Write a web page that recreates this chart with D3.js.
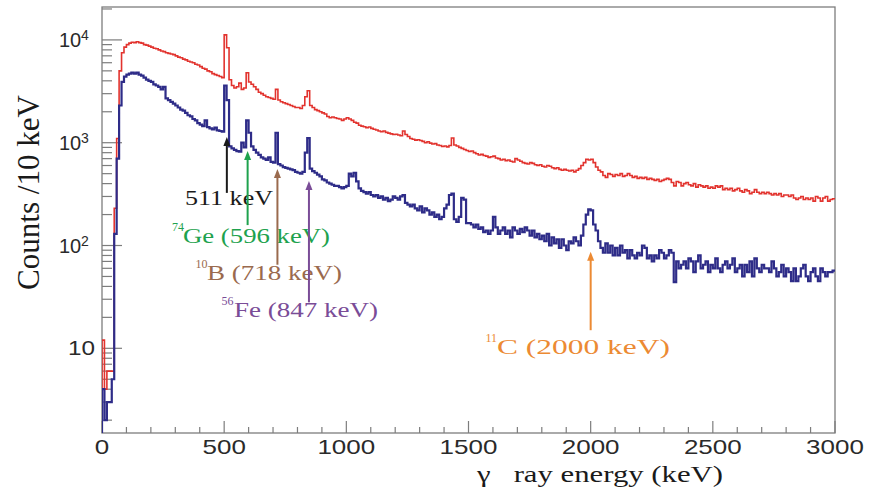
<!DOCTYPE html>
<html>
<head>
<meta charset="utf-8">
<script src="https://cdn.jsdelivr.net/npm/d3@7"></script>
<style>
  html, body { margin: 0; padding: 0; background: #fff; }
  svg { display: block; }
  .serif { font-family: "Liberation Serif", "Times New Roman", Times, serif; }
  .sans { font-family: "Liberation Sans", Arial, Helvetica, sans-serif; }
</style>
</head>
<body>
<svg id="chart" width="879" height="494"></svg>
<script>
// Gamma-ray spectra, 10 keV bins from 0 to 3000 keV
const binWidth = 10;

// upper spectrum (red)
const redCounts = [
  12, 4, 6, 6, 6, 230, 1100, 5000, 7500, 8500,
  9000, 9300, 9500, 9400, 9600, 9400, 9300, 9000, 8900, 8700,
  8500, 8300, 8200, 8000, 7800, 7700, 7500, 7400, 7300, 7200,
  7000, 6800, 6700, 6500, 6400, 6200, 6100, 6000, 5800, 5700,
  5500, 5300, 5200, 5000, 4900, 4700, 4600, 4500, 4400, 4300,
  11200, 8400, 4100, 3600, 3400, 3500, 3800, 3300, 3400, 4800,
  3900, 3700, 3500, 3300, 3100, 3000, 2900, 2800, 2750, 2700,
  2650, 3300, 2600, 2500, 2450, 2400, 2350, 2300, 2250, 2200,
  2200, 2150, 2300, 2800, 3200, 2300, 2200, 2100, 2050, 2000,
  1950, 1900, 1800, 1750, 1780, 1750, 1720, 1700, 1650, 1700,
  1750, 1700, 1650, 1580, 1550, 1480, 1450, 1430, 1400, 1420,
  1380, 1350, 1330, 1300, 1280, 1300, 1260, 1240, 1220, 1200,
  1210, 1190, 1170, 1300, 1200, 1150, 1100, 1080, 1060, 1070,
  1050, 1030, 1000, 1020, 990, 970, 980, 950, 940, 920,
  930, 910, 940, 1110, 950, 930, 900, 880, 860, 840,
  820, 830, 800, 780, 760, 770, 750, 740, 720, 730,
  740, 710, 700, 680, 690, 670, 680, 660, 650, 700,
  680, 660, 640, 630, 620, 640, 630, 610, 600, 610,
  590, 580, 600, 590, 570, 560, 570, 550, 540, 550,
  540, 530, 540, 520, 540, 560, 600, 640, 690, 680,
  690, 640, 580, 540, 520, 480, 460, 500, 490, 470,
  490, 480, 500, 470, 480, 500, 480, 460, 470, 450,
  460, 450, 460, 440, 450, 440, 430, 440, 420, 430,
  440, 450, 440, 410, 380, 420, 410, 380, 400, 410,
  390, 380, 400, 370, 390, 380, 370, 380, 360, 370,
  360, 380, 370, 380, 350, 360, 350, 360, 340, 350,
  360, 340, 330, 350, 340, 320, 330, 350, 330, 320,
  330, 320, 330, 320, 310, 320, 310, 320, 300, 310,
  310, 300, 310, 290, 280, 290, 300, 280, 290, 280,
  290, 270, 300, 290, 270, 290, 300, 270, 280, 285
];

// lower spectrum (blue)
const blueCounts = [
  4, 2, 3, 3, 5, 130, 700, 2300, 3900, 4400,
  4600, 4700, 4800, 4700, 4800, 4600, 4500, 4300, 4100, 4000,
  3900, 3700, 3600, 3500, 3300, 3500, 2700, 2600, 2500, 2400,
  2300, 2200, 2100, 2050, 1950, 1850, 1800, 1700, 1650, 1550,
  1500, 1450, 1650, 1420, 1380, 1350, 1400, 1320, 1300, 1280,
  3600, 2600, 920, 880, 850, 830, 820, 1000, 900, 1650,
  1250, 920, 850, 800, 760, 720, 700, 680, 720, 650,
  640, 1250, 620, 600, 580, 570, 560, 550, 540, 520,
  510, 500, 520, 800, 1110, 560, 530, 510, 490, 470,
  440, 430, 410, 400, 390, 380, 380, 370, 360, 370,
  380, 500, 470, 510, 420, 360, 340, 330, 320, 330,
  310, 300, 310, 290, 300, 280, 290, 270, 280, 300,
  290, 280, 300, 310, 260, 250, 240, 250, 230, 220,
  240, 210, 230, 220, 200, 210, 190, 200, 180, 190,
  230, 250, 310, 320, 180, 170, 190, 290, 280, 165,
  165, 160, 150, 160, 145, 150, 135, 140, 130, 140,
  190, 150, 130, 140, 150, 130, 140, 120, 150, 140,
  130, 145, 135, 150, 140, 125, 140, 120, 130, 115,
  125, 110, 130, 100, 120, 105, 115, 95, 115, 100,
  90, 110, 105, 120, 110, 100, 125, 160, 200, 225,
  220, 160, 140, 110, 95, 85, 105, 85, 100, 80,
  95, 80, 100, 85, 90, 75, 90, 80, 75, 85,
  80, 100, 95, 75, 80, 70, 80, 75, 90, 85,
  75, 80, 90, 85, 44, 70, 60, 65, 70, 60,
  75, 70, 55, 70, 80, 60, 65, 70, 55, 65,
  60, 75, 60, 55, 65, 70, 60, 65, 75, 55,
  60, 65, 50, 65, 55, 70, 50, 75, 60, 55,
  65, 60, 60, 55, 70, 60, 50, 55, 65, 50,
  60, 55, 45, 60, 45, 50, 60, 65, 50, 45,
  55, 60, 50, 45, 60, 55, 50, 55, 55, 57
];

// axis tick labels
const xTickValues = [0, 500, 1000, 1500, 2000, 2500, 3000];
const yDecadeExponents = [1, 2, 3, 4];

// annotated lines
const peakEnergies = [511, 596, 718, 847, 2000];
const peakIsotopeMass = ["", "74", "10", "56", "11"];
const peakElements = ["", "Ge", "B", "Fe", "C"];
const arrowTipCounts = [1138, 832, 556, 424, 87];
const arrowTailCounts = [325, 158, 65, 28, 15];

// styles
const peakColors = ["#1a1a1a", "#1ea24e", "#9a6a4e", "#7a4c97", "#ec8a33"];
const redColor = "#e2332e";
const blueColor = "#2e2c88";

// label placement (left x of superscript / main text, baseline, main text width)
const labelLayout = [
  { x: 185, y: 205, w: 88 },
  { sx: 172, x: 183, y: 243, w: 147 },
  { sx: 195.5, x: 207, y: 280, w: 135 },
  { sx: 221.5, x: 234, y: 317, w: 144 },
  { sx: 485.5, x: 497, y: 354, w: 173 }
];

const svg = d3.select("#chart");
const plot = { left: 102, right: 835, top: 7, bottom: 433 };

const x = d3.scaleLinear().domain([0, 3000]).range([plot.left, plot.right]);
const y = d3.scaleLog().domain([1.5, 20900]).range([plot.bottom, plot.top]);

svg.append("rect").attr("width", 879).attr("height", 494).attr("fill", "#fff");

// clip for the spectra
svg.append("clipPath").attr("id", "plotClip")
  .append("rect")
  .attr("x", plot.left).attr("y", plot.top)
  .attr("width", plot.right - plot.left).attr("height", plot.bottom - plot.top);

const axisColor = "#7d7d7d";
const labelColor = "#2a2a2a";

// x ticks: major every 500 keV, minor every 100 keV, pointing inward
const xMinor = d3.range(0, 3001, 100);
svg.append("g").selectAll("line").data(xMinor).join("line")
  .attr("x1", d => x(d)).attr("x2", d => x(d))
  .attr("y1", plot.bottom)
  .attr("y2", d => plot.bottom - (d % 500 === 0 ? 12 : 6))
  .attr("stroke", axisColor).attr("stroke-width", 1.2);

// y ticks: decades long, 2..9 short
const yMinor = [];
[1, 10, 100, 1000, 10000].forEach(dec => {
  for (let m = 1; m <= 9; m++) {
    const v = m * dec;
    if (v >= y.domain()[0] && v <= y.domain()[1]) yMinor.push({ v, major: m === 1 });
  }
});
svg.append("g").selectAll("line").data(yMinor).join("line")
  .attr("x1", plot.left)
  .attr("x2", d => plot.left + (d.major ? 20 : 10))
  .attr("y1", d => y(d.v)).attr("y2", d => y(d.v))
  .attr("stroke", axisColor).attr("stroke-width", 1.2);

// frame
svg.append("rect")
  .attr("x", plot.left).attr("y", plot.top)
  .attr("width", plot.right - plot.left).attr("height", plot.bottom - plot.top)
  .attr("fill", "none").attr("stroke", axisColor).attr("stroke-width", 1.3);

// x tick labels
svg.append("g").selectAll("text").data(xTickValues).join("text")
  .attr("class", "sans")
  .attr("transform", d => `translate(${x(d)},454) scale(1.3,1)`)
  .attr("text-anchor", "middle")
  .attr("font-size", 20)
  .attr("fill", labelColor)
  .text(d => d);

// y tick labels
yDecadeExponents.forEach(e => {
  const yy = y(Math.pow(10, e));
  if (e === 1) {
    svg.append("text").attr("class", "sans")
      .attr("x", 68).attr("y", yy + 7)
      .attr("font-size", 20).attr("fill", labelColor)
      .attr("textLength", 27).attr("lengthAdjust", "spacingAndGlyphs")
      .text("10");
  } else {
    svg.append("text").attr("class", "sans")
      .attr("x", 59).attr("y", yy + 7)
      .attr("font-size", 20).attr("fill", labelColor)
      .text("10");
    svg.append("text").attr("class", "sans")
      .attr("x", 81).attr("y", yy + 0.5)
      .attr("font-size", 14).attr("fill", labelColor)
      .text(e);
  }
});

// axis titles
svg.append("text").attr("class", "serif")
  .attr("x", 477).attr("y", 482)
  .attr("font-size", 24).attr("fill", "#1a1a1a")
  .attr("textLength", 246).attr("lengthAdjust", "spacingAndGlyphs")
  .style("white-space", "pre")
  .text("\u03b3   ray energy (keV)");

svg.append("text").attr("class", "serif")
  .attr("transform", "translate(39,290) rotate(-90)")
  .attr("font-size", 31).attr("fill", "#1a1a1a")
  .attr("textLength", 195).attr("lengthAdjust", "spacingAndGlyphs")
  .text("Counts /10 keV");

// spectra as step histograms
function histPoints(counts) {
  const pts = [[0, y.domain()[0]]];
  counts.forEach((c, i) => pts.push([i * binWidth, c]));
  pts.push([counts.length * binWidth, counts[counts.length - 1]]);
  return pts;
}
const histLine = d3.line()
  .x(d => x(d[0])).y(d => y(d[1]))
  .curve(d3.curveStepAfter);

const spectra = svg.append("g").attr("clip-path", "url(#plotClip)");
spectra.append("path")
  .attr("d", histLine(histPoints(redCounts)))
  .attr("fill", "none").attr("stroke", redColor).attr("stroke-width", 1.6)
  .attr("stroke-linejoin", "miter");
spectra.append("path")
  .attr("d", histLine(histPoints(blueCounts)))
  .attr("fill", "none").attr("stroke", blueColor).attr("stroke-width", 2.2)
  .attr("stroke-linejoin", "miter");

// peak arrows and labels
const headLen = 9, headHalf = 3.5;
peakEnergies.forEach((E, i) => {
  const col = peakColors[i];
  const ax = x(E);
  const tip = y(arrowTipCounts[i]);
  const tail = y(arrowTailCounts[i]);
  svg.append("line")
    .attr("x1", ax).attr("x2", ax)
    .attr("y1", tail).attr("y2", tip + headLen - 1)
    .attr("stroke", col).attr("stroke-width", 2);
  svg.append("path")
    .attr("d", `M${ax},${tip} L${ax - headHalf},${tip + headLen} L${ax + headHalf},${tip + headLen} Z`)
    .attr("fill", col);

  const L = labelLayout[i];
  const main = peakElements[i] ? `${peakElements[i]} (${E} keV)` : `${E} keV`;
  if (peakIsotopeMass[i]) {
    svg.append("text").attr("class", "serif")
      .attr("x", L.sx).attr("y", L.y - 12)
      .attr("font-size", 12).attr("fill", col)
      .text(peakIsotopeMass[i]);
  }
  svg.append("text").attr("class", "serif")
    .attr("x", L.x).attr("y", L.y)
    .attr("font-size", 22).attr("fill", col)
    .attr("textLength", L.w).attr("lengthAdjust", "spacingAndGlyphs")
    .text(main);
});
</script>
</body>
</html>
